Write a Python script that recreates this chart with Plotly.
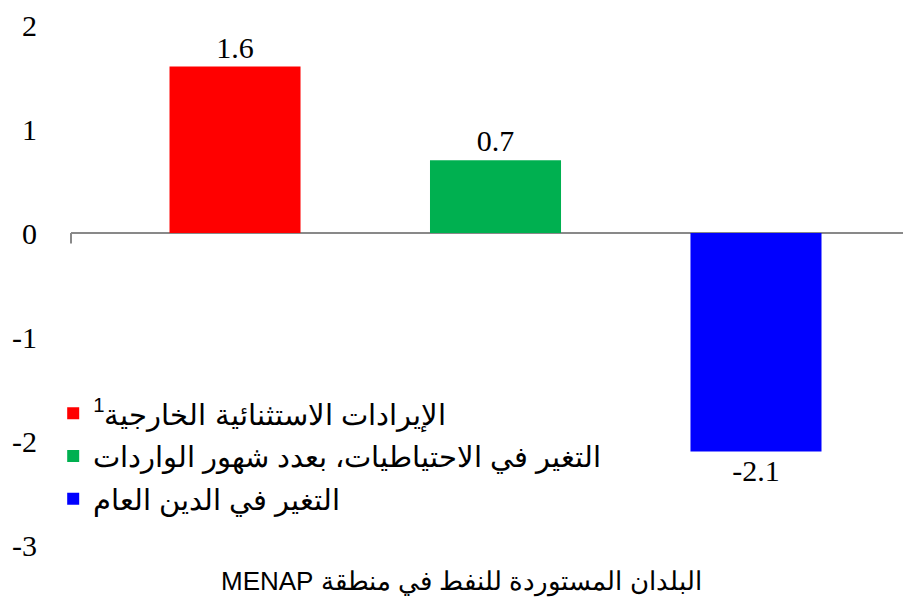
import plotly.graph_objects as go

# data
category = ["MENAP"]
category_label = "\u202bالبلدان المستوردة للنفط في منطقة MENAP\u202c"
series_names = [
    "الإيرادات الاستثنائية الخارجية<sup>1</sup>",
    "التغير في الاحتياطيات، بعدد شهور الواردات",
    "التغير في الدين العام",
]
series_values = [1.6, 0.7, -2.1]
series_colors = ["#FF0000", "#00B050", "#0000FF"]
y_ticks = [2, 1, 0, -1, -2, -3]
y_ticktext = ["2", "1", "0", "-1", "-2", "-3"]

serif = "Liberation Serif, Times New Roman, serif"
sans = "Liberation Sans, Arial, sans-serif"

fig = go.Figure()
for i, (name, val, col) in enumerate(zip(series_names, series_values, series_colors)):
    fig.add_trace(go.Bar(
        name=name,
        x=category,
        y=[val],
        marker=dict(color=col, line_width=0),
        texttemplate="%{y:.1f}",
        textposition="outside",
        textfont=dict(family=serif, size=30, color="black"),
        cliponaxis=False,
        legendgroup=f"g{i}",
    ))

# category label under the plot
fig.add_annotation(
    text=category_label, xref="paper", yref="paper", x=0.46, y=-0.071,
    xanchor="center", yanchor="middle", showarrow=False,
    font=dict(family=sans, size=26, color="black"),
)

fig.update_layout(
    width=911, height=610,
    margin=dict(l=63, r=0, t=17, b=73, autoexpand=False),
    plot_bgcolor="white", paper_bgcolor="white",
    barmode="group", bargap=0.07, bargroupgap=0.497,
    showlegend=True,
    legend=dict(
        x=-0.021, y=0.302, xanchor="left", yanchor="top",
        font=dict(family=sans, size=29, color="black"),
        tracegroupgap=2,
        bgcolor="rgba(0,0,0,0)",
    ),
    xaxis=dict(
        range=[-0.5052, 0.504],
        showline=False, showgrid=False, ticks="", showticklabels=False,
    ),
    yaxis=dict(
        range=[-3, 2], tickvals=y_ticks, ticktext=y_ticktext,
        showgrid=False, showline=False, ticks="",
        zeroline=True, zerolinecolor="#898989", zerolinewidth=2,
        tickfont=dict(family=serif, size=30, color="black"),
        ticklabelstandoff=33,
    ),
    shapes=[dict(type="line", xref="x domain", yref="y", x0=0, x1=0, y0=0, y1=-0.1,
                 line=dict(color="#898989", width=2))],
)

fig.write_html("out.html")
